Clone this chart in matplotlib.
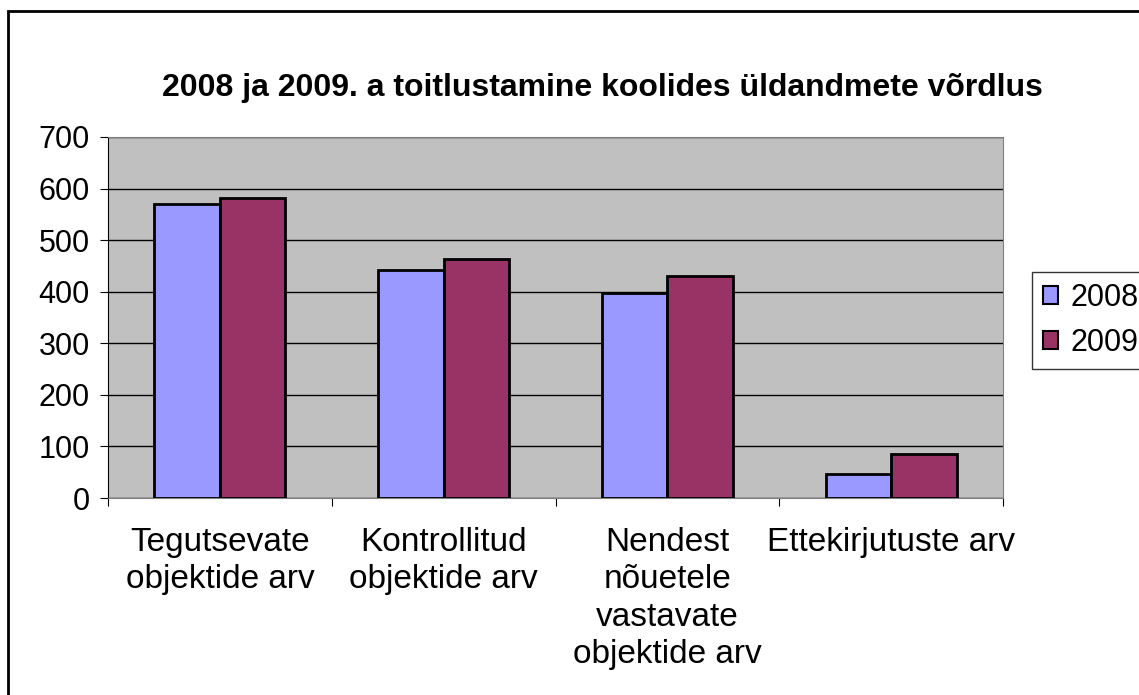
import matplotlib.pyplot as plt
import matplotlib.patches as patches
import numpy as np

plt.rcParams['font.family'] = ['Liberation Sans', 'DejaVu Sans']

categories = ["Tegutsevate\nobjektide arv", "Kontrollitud\nobjektide arv",
              "Nendest\nnõuetele\nvastavate\nobjektide arv", "Ettekirjutuste arv"]
series_names = ["2008", "2009"]
values_2008 = [571, 443, 397, 47]
values_2009 = [581, 463, 430, 85]
yticks = [0, 100, 200, 300, 400, 500, 600, 700]

W, H = 1139, 695
fig = plt.figure(figsize=(W / 100, H / 100), dpi=100)

# outer chart frame (runs off the right and bottom edge)
fig.patches.append(patches.Rectangle((8 / W, -0.05), 1.2, 1 - 11 / H + 0.05,
                                     transform=fig.transFigure, fill=False,
                                     edgecolor='black', linewidth=2))

ax = fig.add_axes([108 / W, 1 - 498 / H, (1003 - 108) / W, (498 - 137) / H])
ax.set_facecolor('#C0C0C0')

x = np.arange(len(categories)) + 0.5
bw = 0.293
b1 = ax.bar(x - bw / 2, values_2008, bw, color='#9999FF', edgecolor='black',
            linewidth=2, label=series_names[0], zorder=3)
b2 = ax.bar(x + bw / 2, values_2009, bw, color='#993366', edgecolor='black',
            linewidth=2, label=series_names[1], zorder=3)

ax.set_xlim(0, len(categories))
ax.set_ylim(0, 700)
ax.set_yticks(yticks)
ax.set_yticklabels([str(v) for v in yticks], fontsize=22)
ax.yaxis.grid(True, color='black', linewidth=1)
ax.set_axisbelow(True)

ax.set_xticks(np.arange(len(categories) + 1))
ax.set_xticklabels([])
ax.set_xticks(x, minor=True)
ax.set_xticklabels(categories, minor=True, fontsize=24, linespacing=1.26)
ax.tick_params(axis='x', which='minor', length=0, pad=21)
ax.tick_params(axis='x', which='major', length=6, color='black', direction='out')
ax.tick_params(axis='y', length=6, color='black', direction='out', pad=7)

for s in ['top', 'right']:
    ax.spines[s].set_color('#808080')
ax.spines['left'].set_color('black')
ax.spines['bottom'].set_color('#808080')

fig.text(602 / W, 1 - 88 / H, "2008 ja 2009. a toitlustamine koolides üldandmete võrdlus",
         ha='center', va='center', fontsize=23, fontweight='bold')

leg = fig.legend(handles=[b1, b2], loc='upper left',
                 bbox_to_anchor=(1032 / W, 1 - 272 / H), fontsize=22,
                 frameon=True, fancybox=False, handlelength=0.5, handleheight=0.5,
                 handletextpad=0.4, borderpad=0.35, labelspacing=0.5,
                 borderaxespad=0)
leg.get_frame().set_edgecolor('black')
leg.get_frame().set_linewidth(1)
for h in leg.legend_handles:
    h.set_linewidth(1.5)

fig.savefig('out.png', dpi=100)
